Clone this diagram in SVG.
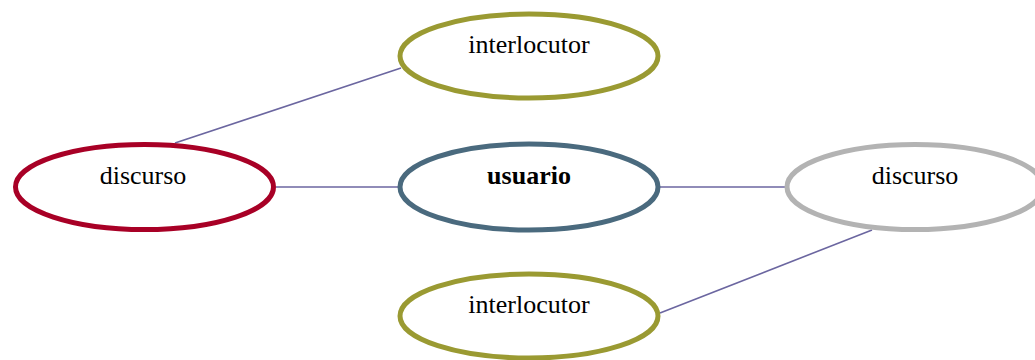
<svg xmlns="http://www.w3.org/2000/svg" width="1035" height="360" viewBox="0 0 1035 360">
<style>
.n{fill:#fff;stroke-width:5}
.t{font-family:"Liberation Serif","Times New Roman",serif;font-size:26px;fill:#000;text-anchor:middle}
.e{stroke:#6b66a0;stroke-width:1.6;fill:none}
</style>
<rect width="1035" height="360" fill="#fff"/>
<g id="connectors">
<line class="e" x1="175" y1="143" x2="401" y2="68"/>
<line class="e" x1="276" y1="187" x2="399" y2="187"/>
<line class="e" x1="660" y1="187" x2="786" y2="187"/>
<line class="e" x1="872" y1="230" x2="660" y2="313"/>
</g>
<g id="interlocutor-top">
<ellipse class="n" cx="529" cy="56" rx="129" ry="42" stroke="#9a9a32"/>
<text class="t" x="529" y="53">interlocutor</text>
</g>
<g id="discurso-left">
<ellipse class="n" cx="144.5" cy="187" rx="129" ry="42.5" stroke="#a80026"/>
<text class="t" x="143" y="184">discurso</text>
</g>
<g id="usuario">
<ellipse class="n" cx="529" cy="187" rx="129" ry="43" stroke="#4a6a7e"/>
<text class="t" x="529" y="184" font-weight="bold">usuario</text>
</g>
<g id="discurso-right">
<ellipse class="n" cx="915" cy="187" rx="128" ry="42.5" stroke="#b3b3b3"/>
<text class="t" x="915" y="184">discurso</text>
</g>
<g id="interlocutor-bottom">
<ellipse class="n" cx="529" cy="316" rx="129" ry="42" stroke="#9a9a32"/>
<text class="t" x="529" y="313">interlocutor</text>
</g>
</svg>
